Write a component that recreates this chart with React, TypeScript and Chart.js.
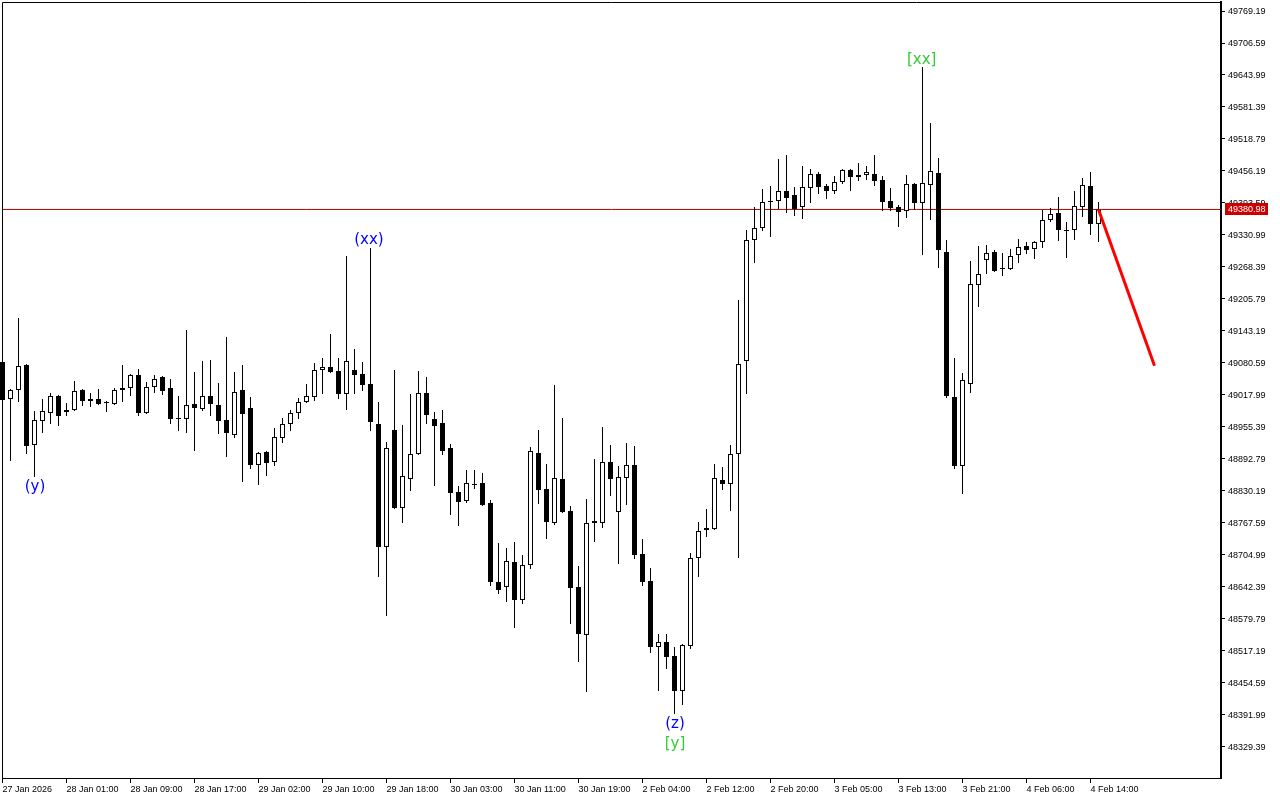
import React, { useEffect, useRef } from 'react';
import { Chart, registerables } from 'chart.js';

Chart.register(...registerables);

// ---- Data (H1 candles) ----
const opens = [
  49082.5, 49010.2, 49027.8, 49076.7, 48920.2, 48967.1, 48982.8, 49016.0, 48988.6, 48988.6,
  49027.8, 49010.2, 49010.2, 49004.3, 49000.4, 49027.8, 49031.7, 49057.1, 48982.8, 49033.6,
  49053.2, 49031.7, 48973.0, 48971.0, 49000.4, 48990.6, 49016.0, 48998.4, 48969.1, 48939.7,
  49027.8, 48992.6, 48881.0, 48906.5, 48886.9, 48933.9, 48961.3, 48982.8, 49004.3, 49014.1,
  49066.9, 49072.8, 49064.9, 49019.9, 49066.9, 49059.1, 49039.5, 48961.3, 48720.6, 48949.5,
  48796.9, 48853.7, 48902.6, 49021.9, 48971.0, 48963.2, 48914.3, 48828.2, 48810.6, 48841.9,
  48845.8, 48806.7, 48652.2, 48642.4, 48691.3, 48617.0, 48685.4, 48904.5, 48834.1, 48767.6,
  48853.7, 48791.1, 48642.4, 48548.5, 48767.6, 48767.6, 48886.9, 48789.1, 48855.6, 48881.0,
  48706.9, 48654.1, 48525.0, 48534.8, 48507.4, 48438.9, 48527.0, 48699.1, 48753.9, 48755.8,
  48851.7, 48843.9, 48902.6, 49084.5, 49321.2, 49344.7, 49395.5, 49397.5, 49417.1, 49409.2,
  49385.8, 49422.9, 49450.3, 49426.8, 49417.1, 49434.7, 49458.1, 49448.4, 49448.4, 49450.3,
  49438.6, 49397.5, 49385.8, 49377.9, 49430.8, 49393.6, 49428.8, 49452.3, 49297.7, 49014.1,
  48879.1, 49039.5, 49233.2, 49282.1, 49297.7, 49266.4, 49264.5, 49291.9, 49309.5, 49303.6,
  49317.3, 49360.3, 49374.0, 49338.8, 49340.8, 49385.8, 49426.8, 49352.5,
];

const highs = [
  49090.4, 49029.7, 49168.6, 49078.6, 48986.7, 49010.2, 49021.9, 49018.0, 49002.3, 49045.4,
  49029.7, 49021.9, 49029.7, 49006.2, 49031.7, 49076.7, 49059.1, 49068.8, 49043.4, 49057.1,
  49055.2, 49049.3, 49016.0, 49145.1, 49063.0, 49084.5, 49086.5, 49041.5, 49131.4, 49063.0,
  49076.7, 49014.1, 48906.5, 48908.4, 48953.4, 48973.0, 48988.6, 49012.1, 49039.5, 49080.6,
  49090.4, 49137.3, 49090.4, 49289.9, 49108.0, 49082.5, 49305.6, 49004.3, 48926.0, 49066.9,
  48959.3, 49019.9, 49064.9, 49053.2, 48984.7, 48988.6, 48922.1, 48840.0, 48871.3, 48871.3,
  48865.4, 48812.6, 48728.5, 48718.7, 48730.4, 48705.0, 48916.3, 48949.5, 48883.0, 49037.5,
  48973.0, 48800.8, 48683.5, 48814.5, 48892.8, 48955.4, 48920.2, 48879.1, 48924.1, 48918.2,
  48736.3, 48679.6, 48550.4, 48550.4, 48525.0, 48530.9, 48708.9, 48769.5, 48795.0, 48883.0,
  48877.1, 48920.2, 49203.8, 49340.8, 49385.8, 49421.0, 49426.8, 49479.7, 49487.5, 49424.9,
  49466.0, 49460.1, 49454.2, 49430.8, 49446.4, 49460.1, 49460.1, 49471.8, 49466.0, 49487.5,
  49446.4, 49422.9, 49389.7, 49448.4, 49432.7, 49659.6, 49550.1, 49481.6, 49321.2, 49090.4,
  49061.0, 49280.1, 49309.5, 49311.4, 49301.6, 49295.8, 49303.6, 49323.2, 49317.3, 49319.2,
  49379.9, 49383.8, 49405.3, 49356.4, 49417.1, 49442.5, 49454.2, 49395.5,
];

const lows = [
  48998.4, 48888.9, 49004.3, 48902.6, 48857.6, 48943.6, 48961.3, 48957.3, 48976.9, 48986.7,
  48996.5, 48994.5, 48998.4, 48984.7, 48998.4, 49004.3, 49016.0, 48976.9, 48980.8, 49021.9,
  49018.0, 48961.3, 48947.6, 48943.6, 48908.4, 48986.7, 48976.9, 48941.7, 48896.7, 48933.9,
  48847.8, 48873.2, 48841.9, 48859.5, 48879.1, 48924.1, 48947.6, 48971.0, 49002.3, 49006.2,
  49019.9, 49061.0, 49010.2, 48988.6, 49019.9, 49025.8, 48947.6, 48661.9, 48585.7, 48795.0,
  48767.6, 48830.2, 48900.6, 48961.3, 48840.0, 48900.6, 48783.2, 48761.7, 48806.7, 48834.1,
  48800.8, 48644.3, 48628.7, 48613.0, 48562.2, 48609.1, 48677.6, 48804.8, 48736.3, 48763.7,
  48787.1, 48570.0, 48495.7, 48437.0, 48730.4, 48757.8, 48820.4, 48687.4, 48802.8, 48697.2,
  48644.3, 48513.3, 48438.9, 48482.0, 48393.9, 48411.5, 48521.1, 48661.9, 48740.2, 48753.9,
  48832.1, 48791.1, 48699.1, 49019.9, 49276.2, 49338.8, 49327.1, 49381.8, 49374.0, 49368.2,
  49362.3, 49393.6, 49411.2, 49401.4, 49411.2, 49430.8, 49417.1, 49436.6, 49438.6, 49426.8,
  49377.9, 49377.9, 49346.6, 49364.2, 49379.9, 49291.9, 49360.3, 49266.4, 49012.1, 48873.2,
  48824.3, 49021.9, 49190.1, 49254.7, 49258.6, 49250.8, 49262.5, 49276.2, 49293.8, 49284.0,
  49305.6, 49356.4, 49319.2, 49286.0, 49321.2, 49366.2, 49331.0, 49317.3,
];

const closes = [
  49008.2, 49027.8, 49074.7, 48918.2, 48969.1, 48986.7, 49016.0, 48976.9, 48984.7, 49025.8,
  49006.2, 49006.2, 49000.4, 49002.3, 49027.8, 49031.7, 49057.1, 48982.8, 49033.6, 49049.3,
  49025.8, 48971.0, 48971.0, 48998.4, 48992.6, 49016.0, 49000.4, 48967.1, 48943.6, 49023.9,
  48980.8, 48881.0, 48904.5, 48885.0, 48935.8, 48961.3, 48982.8, 49004.3, 49016.0, 49066.9,
  49072.8, 49063.0, 49019.9, 49084.5, 49057.1, 49037.5, 48965.2, 48720.6, 48914.3, 48796.9,
  48859.5, 48902.6, 49021.9, 48978.9, 48957.3, 48908.4, 48826.3, 48808.7, 48845.8, 48843.9,
  48802.8, 48652.2, 48636.5, 48693.2, 48617.0, 48685.4, 48908.4, 48832.1, 48769.5, 48855.6,
  48789.1, 48640.4, 48550.4, 48767.6, 48771.5, 48886.9, 48853.7, 48857.6, 48881.0, 48705.0,
  48652.2, 48525.0, 48534.8, 48505.4, 48438.9, 48528.9, 48699.1, 48751.9, 48757.8, 48855.6,
  48843.9, 48902.6, 49078.6, 49321.2, 49344.7, 49395.5, 49397.5, 49417.1, 49403.4, 49381.8,
  49424.9, 49450.3, 49424.9, 49417.1, 49434.7, 49458.1, 49444.4, 49444.4, 49454.2, 49436.6,
  49395.5, 49383.8, 49376.0, 49430.8, 49393.6, 49432.7, 49456.2, 49301.6, 49016.0, 48879.1,
  49047.3, 49235.1, 49254.7, 49295.8, 49260.6, 49264.5, 49289.9, 49307.5, 49301.6, 49317.3,
  49360.3, 49372.1, 49340.8, 49340.8, 49387.7, 49428.8, 49352.5, 49380.98,
];

const xTickIdx = [0, 8, 16, 24, 32, 40, 48, 56, 64, 72, 80, 88, 96, 104, 112, 120, 128, 136];
const xTickLabels = [
  '27 Jan 2026', '28 Jan 01:00', '28 Jan 09:00', '28 Jan 17:00', '29 Jan 02:00', '29 Jan 10:00',
  '29 Jan 18:00', '30 Jan 03:00', '30 Jan 11:00', '30 Jan 19:00', '2 Feb 04:00', '2 Feb 12:00',
  '2 Feb 20:00', '3 Feb 05:00', '3 Feb 13:00', '3 Feb 21:00', '4 Feb 06:00', '4 Feb 14:00',
];

const yTicks = [
  48329.39, 48391.99, 48454.59, 48517.19, 48579.79, 48642.39, 48704.99, 48767.59,
  48830.19, 48892.79, 48955.39, 49017.99, 49080.59, 49143.19, 49205.79, 49268.39,
  49330.99, 49393.59, 49456.19, 49518.79, 49581.39, 49643.99, 49706.59, 49769.19,
];

const lastPrice = 49380.98;
const forecastIdx = [137, 144];
const forecastPrice = [49380.98, 49075.3];

const waveText = ['(y)', '(xx)', '(z)', '[y]', '[xx]'];
const waveIdx = [4.06, 45.8, 84.06, 84.06, 114.9];
const wavePrice = [48837.0, 49321.2, 48373.3, 48334.2, 49673.3];
const waveColor = ['#0000ff', '#0000ff', '#0000ff', '#32cd32', '#32cd32'];

const Y_MIN = 48268.7;
const Y_MAX = 49786.8;
const X_MIN = -0.0625;
const X_MAX = 152.3125;

const AXIS_FONT = { family: '"Liberation Sans", Arial, sans-serif', size: 9 };

const overlayPlugin = {
  id: 'overlay',
  afterDraw(chart: any) {
    const { ctx, chartArea, scales } = chart;
    const xs = scales.x;
    const ys = scales.y;
    ctx.save();
    // frame top / left
    ctx.strokeStyle = '#000';
    ctx.lineWidth = 1;
    ctx.beginPath();
    ctx.moveTo(chartArea.left + 0.5, chartArea.bottom);
    ctx.lineTo(chartArea.left + 0.5, chartArea.top + 0.5);
    ctx.lineTo(chartArea.right, chartArea.top + 0.5);
    ctx.stroke();

    // wave labels
    ctx.font = '15px "DejaVu Sans", sans-serif';
    ctx.textAlign = 'center';
    ctx.textBaseline = 'middle';
    for (let k = 0; k < waveText.length; k++) {
      ctx.fillStyle = waveColor[k];
      ctx.fillText(waveText[k], xs.getPixelForValue(waveIdx[k]), ys.getPixelForValue(wavePrice[k]));
    }

    // last price box
    const py = Math.round(ys.getPixelForValue(lastPrice));
    ctx.fillStyle = '#cc0000';
    ctx.fillRect(chartArea.right + 4, py - 6, 43, 12);
    ctx.fillStyle = '#ffffff';
    ctx.font = '9px "Liberation Sans", Arial, sans-serif';
    ctx.textAlign = 'left';
    ctx.textBaseline = 'middle';
    ctx.fillText(lastPrice.toFixed(2), chartArea.right + 7, py + 1);
    ctx.restore();
  },
};

export default function App() {
  const ref = useRef<HTMLCanvasElement>(null);

  useEffect(() => {
    const bodyData = opens.map((o, i) => ({ x: i, y: [o, closes[i]] }));
    const wickData = opens.map((_, i) => ({ x: i, y: [lows[i], highs[i]] }));
    const bodyColors = opens.map((o, i) => (closes[i] >= o ? '#ffffff' : '#000000'));

    const chart = new Chart(ref.current as HTMLCanvasElement, {
      type: 'bar',
      data: {
        datasets: [
          {
            type: 'bar',
            data: bodyData as any,
            backgroundColor: bodyColors,
            borderColor: '#000000',
            borderWidth: 1,
            borderSkipped: false,
            barThickness: 5,
            grouped: false,
            inflateAmount: 0,
            clip: false as any,
            order: 2,
          } as any,
          {
            type: 'bar',
            data: wickData as any,
            backgroundColor: '#000000',
            borderWidth: 0,
            barThickness: 1,
            grouped: false,
            inflateAmount: 0,
            clip: false as any,
            order: 3,
          } as any,
          {
            type: 'line',
            data: [
              { x: X_MIN, y: lastPrice },
              { x: X_MAX, y: lastPrice },
            ],
            borderColor: '#b40000',
            borderWidth: 1,
            pointRadius: 0,
            order: 4,
          } as any,
          {
            type: 'line',
            data: forecastIdx.map((x, k) => ({ x, y: forecastPrice[k] })),
            borderColor: '#ff0000',
            borderWidth: 3,
            pointRadius: 0,
            order: 1,
          } as any,
        ],
      },
      options: {
        responsive: false,
        animation: false,
        devicePixelRatio: 1,
        events: [],
        layout: { padding: { left: 2, top: 2, right: 0, bottom: 0 } },
        plugins: { legend: { display: false }, tooltip: { enabled: false } },
        scales: {
          x: {
            type: 'linear',
            position: 'bottom',
            min: X_MIN,
            max: X_MAX,
            offset: false,
            bounds: 'data',
            afterBuildTicks: (s: any) => {
              s.ticks = xTickIdx.map((v) => ({ value: v }));
            },
            afterFit: (s: any) => {
              s.height = 22;
              s.paddingLeft = 0;
              s.paddingRight = 0;
            },
            ticks: {
              autoSkip: false,
              maxRotation: 0,
              minRotation: 0,
              align: 'start',
              padding: 1,
              color: '#000000',
              font: AXIS_FONT,
              callback: (v: any) => {
                const k = xTickIdx.indexOf(Number(v));
                return k >= 0 ? xTickLabels[k] : '';
              },
            },
            grid: { drawOnChartArea: false, drawTicks: true, tickLength: 5, color: '#000000', offset: false },
            border: { display: true, color: '#000000', width: 1 },
          },
          y: {
            type: 'linear',
            position: 'right',
            min: Y_MIN,
            max: Y_MAX,
            bounds: 'data',
            afterBuildTicks: (s: any) => {
              s.ticks = yTicks.map((v) => ({ value: v }));
            },
            afterFit: (s: any) => {
              s.width = 59;
              s.paddingTop = 0;
              s.paddingBottom = 0;
            },
            ticks: {
              autoSkip: false,
              padding: 3,
              labelOffset: 1,
              color: '#000000',
              font: AXIS_FONT,
              callback: (v: any) => Number(v).toFixed(2),
            },
            grid: { drawOnChartArea: false, drawTicks: true, tickLength: 4, color: '#000000' },
            border: { display: true, color: '#000000', width: 2 },
          },
        },
      } as any,
      plugins: [overlayPlugin],
    });
    return () => chart.destroy();
  }, []);

  return (
    <div style={{ position: 'fixed', left: 0, top: 0, width: 1280, height: 800, background: '#ffffff' }}>
      <canvas ref={ref} width={1280} height={800} style={{ display: 'block', width: 1280, height: 800 }} />
    </div>
  );
}
